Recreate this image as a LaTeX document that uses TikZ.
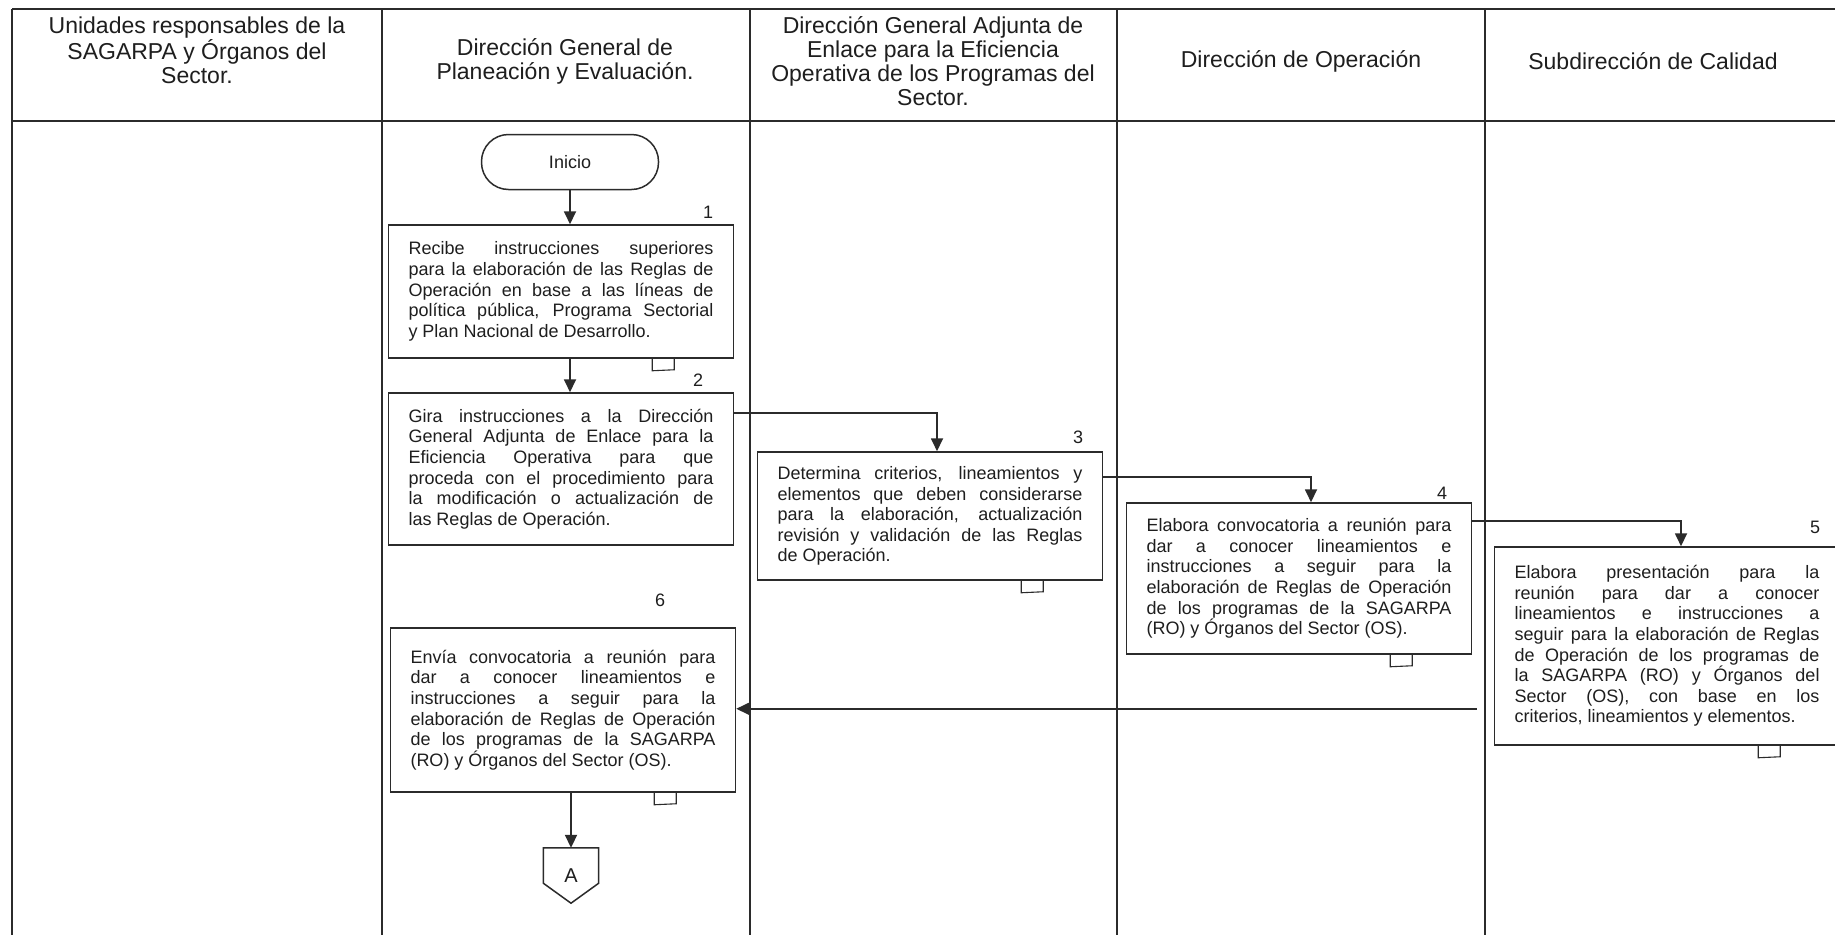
\documentclass[tikz,border=0pt]{standalone}
\usepackage{fontspec}
\setmainfont{Liberation Sans}
\usetikzlibrary{arrows.meta}
\definecolor{linec}{HTML}{2B2B2B}
\definecolor{textc}{HTML}{1E1E1E}
\newcommand\boxfont{\fontsize{18}{20.6}\selectfont\hyphenpenalty=10000\exhyphenpenalty=10000\tolerance=10000}
\newcommand\headfont{\fontsize{23}{24}\selectfont}
\newcommand\docmark[1]{\draw[tabline] ([xshift=-82pt]#1.south east) -- ++(0,12) -- ++(22,-1) -- ++(0,-11);}
\begin{document}
\begin{tikzpicture}[x=1pt,y=-1pt,
  lane/.style={draw=linec,line width=1.8pt},
  head/.style={font=\headfont,text=textc,align=center,inner sep=0pt},
  procbox/.style={draw=linec,line width=1.5pt,text=textc,font=\boxfont,text width=305pt,inner xsep=20pt,inner ysep=3pt,align=justify},
  term/.style={draw=linec,line width=1.5pt,rounded corners=27pt,minimum width=177pt,minimum height=55pt,font=\fontsize{18}{20}\selectfont,text=textc},
  arr/.style={draw=linec,line width=1.8pt,-{Triangle[width=12pt,length=13pt]}},
  numlab/.style={font=\fontsize{18}{20}\selectfont,text=textc,inner sep=0pt},
  tabline/.style={draw=linec,line width=1.1pt},
  offpage/.style={draw=linec,line width=1.5pt},
]
\useasboundingbox[fill=white] (0,0) rectangle (1835,935);

% swimlane grid
\draw[lane] (12,9) -- (1835,9);
\draw[lane] (12,121) -- (1835,121);
\foreach \x in {12,382,750,1117,1485} \draw[lane] (\x,9) -- (\x,935);

% headers
\node[head] (h1) at (197,50) {Unidades responsables de la\\SAGARPA y Órganos del\\Sector.};
\node[head] (h2) at (565,61) {Dirección General de\\Planeación y Evaluación.};
\node[head] (h3) at (933,61) {Dirección General Adjunta de\\Enlace para la Eficiencia\\Operativa de los Programas del\\Sector.};
\node[head] (h4) at (1301,61) {Dirección de Operación};
\node[head] (h5) at (1653,61) {Subdirección de Calidad};

% nodes
\node[term] (inicio) at (570,162) {Inicio};
\node[procbox,minimum height=133pt] (b1) at (561,291.5) {Recibe instrucciones superiores\linebreak para la elaboración de las Reglas de\linebreak Operación en base a las líneas de\linebreak política pública, Programa Sectorial\linebreak y Plan Nacional de Desarrollo.};
\node[procbox,minimum height=152pt] (b2) at (561,469) {Gira instrucciones a la Dirección\linebreak General Adjunta de Enlace para la\linebreak Eficiencia Operativa para que\linebreak proceda con el procedimiento para\linebreak la modificación o actualización de\linebreak las Reglas de Operación.};
\node[procbox,minimum height=128pt] (b3) at (930,516) {Determina criterios, lineamientos y\linebreak elementos que deben considerarse\linebreak para la elaboración, actualización\linebreak revisión y validación de las Reglas\linebreak de Operación.};
\node[procbox,minimum height=151pt] (b4) at (1299,578.5) {Elabora convocatoria a reunión para\linebreak dar a conocer lineamientos e\linebreak instrucciones a seguir para la\linebreak elaboración de Reglas de Operación\linebreak de los programas de la SAGARPA\linebreak (RO) y Órganos del Sector (OS).};
\node[procbox,minimum height=198pt] (b5) at (1667,646) {Elabora presentación para la\linebreak reunión para dar a conocer\linebreak lineamientos e instrucciones a\linebreak seguir para la elaboración de Reglas\linebreak de Operación de los programas de\linebreak la SAGARPA (RO) y Órganos del\linebreak Sector (OS), con base en los\linebreak criterios, lineamientos y elementos.};
\node[procbox,minimum height=164pt] (b6) at (563,710) {Envía convocatoria a reunión para\linebreak dar a conocer lineamientos e\linebreak instrucciones a seguir para la\linebreak elaboración de Reglas de Operación\linebreak de los programas de la SAGARPA\linebreak (RO) y Órganos del Sector (OS).};
\node[inner sep=0pt,minimum width=55pt,minimum height=55pt,font=\fontsize{20}{22}\selectfont,text=textc] (A) at (571,875.5) {A};
\draw[offpage] (A.north west) -- (A.north east) -- ([yshift=20pt]A.south east) -- (A.south) -- ([yshift=20pt]A.south west) -- cycle;

% step numbers
\node[numlab] (n1) at (708,212) {1};
\node[numlab] (n2) at (698,380) {2};
\node[numlab] (n3) at (1078,437) {3};
\node[numlab] (n4) at (1442,493) {4};
\node[numlab] (n5) at (1815,527) {5};
\node[numlab] (n6) at (660,600) {6};

% document marks
\docmark{b1}
\docmark{b3}
\docmark{b4}
\docmark{b5}
\docmark{b6}

% connectors
\draw[arr] (inicio.south) -- (inicio.south |- b1.north);
\draw[arr] (inicio.south |- b1.south) -- (inicio.south |- b2.north);
\draw[arr] ([yshift=-21pt]b2.north east) -| ([xshift=7pt]b3.north);
\draw[arr] ([yshift=-26pt]b3.north east) -| ([xshift=12pt]b4.north);
\draw[arr] ([yshift=-19pt]b4.north east) -| ([xshift=14pt]b5.north);
\coordinate (r5) at ([xshift=-17pt,yshift=37pt]b5.south west);
\draw[arr] (r5) -- (r5 -| b6.east);
\draw[arr] (A.north |- b6.south) -- (A.north);
\end{tikzpicture}
\end{document}
